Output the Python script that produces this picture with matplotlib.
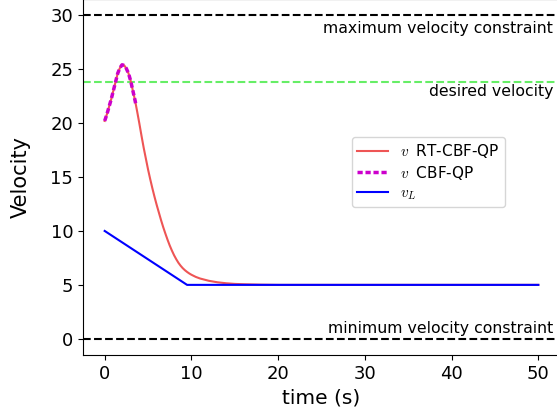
import matplotlib
matplotlib.use("Agg")
import matplotlib.pyplot as plt

plt.rcParams['mathtext.fontset'] = 'cm'

# RT-CBF-QP velocity
t_rt = [0, 0.25, 0.5, 0.75, 1.0, 1.25, 1.5, 1.75, 2.0, 2.25, 2.5, 2.75, 3.0, 3.25,
        3.5, 3.75, 4.0, 4.25, 4.5, 4.75, 5.0, 5.25, 5.5, 5.75, 6.0, 6.25, 6.5,
        6.75, 7.0, 7.25, 7.5, 7.75, 8.0, 8.25, 8.5, 8.75, 9.0, 9.25, 9.5, 9.75,
        10.0, 10.5, 11.0, 12.0, 13.0, 14.0, 15.0, 16.0, 17.0, 18.0, 20.0, 30.0,
        40.0, 50.0]
v_rt = [20.2, 20.8, 21.5, 22.2, 23.0, 23.8, 24.6, 25.1, 25.4, 25.35, 25.05, 24.6,
        23.9, 23.0, 22.1, 21.05, 19.95, 18.8, 17.7, 16.7, 15.7, 14.8, 13.95,
        13.15, 12.4, 11.7, 11.0, 10.35, 9.75, 9.18, 8.65, 8.18, 7.75, 7.38, 7.05,
        6.78, 6.55, 6.36, 6.2, 6.06, 5.94, 5.74, 5.59, 5.38, 5.24, 5.15, 5.09,
        5.06, 5.04, 5.02, 5.0, 5.0, 5.0, 5.0]

# CBF-QP velocity (short horizon)
t_cbf = [0, 0.25, 0.5, 0.75, 1.0, 1.25, 1.5, 1.75, 2.0, 2.25, 2.5, 2.75, 3.0,
         3.25, 3.5, 3.6]
v_cbf = [20.2, 20.8, 21.5, 22.2, 23.0, 23.8, 24.6, 25.1, 25.4, 25.35, 25.05,
         24.6, 23.9, 23.0, 22.1, 21.7]

# Lead vehicle velocity
t_lead = [0, 9.5, 50]
v_lead = [10.0, 5.0, 5.0]

v_max = 30
v_min = 0
v_des = 23.8

fig = plt.figure(figsize=(5.57, 4.12), dpi=100)
ax = fig.add_axes([83/557, 57/412, 477/557, 356/412])

ax.axhline(v_max, color='black', linestyle='--', linewidth=1.5)
ax.axhline(v_min, color='black', linestyle='--', linewidth=1.5)
ax.axhline(v_des, color='#66ee66', linestyle='--', linewidth=1.5)

ax.plot(t_rt, v_rt, color='#ee5555', linewidth=1.5, label=r'$v\;$ RT-CBF-QP')
ax.plot(t_cbf, v_cbf, color='#cc00cc', linewidth=2.5, dashes=(1.5, 0.8),
        label=r'$v\;$ CBF-QP')
ax.plot(t_lead, v_lead, color='blue', linewidth=1.5, label=r'$v_L$')

ax.text(51.7, 28.8, 'maximum velocity constraint', ha='right', va='center', fontsize=11.3)
ax.text(51.7, 22.9, 'desired velocity', ha='right', va='center', fontsize=11.3)
ax.text(51.7, 1.0, 'minimum velocity constraint', ha='right', va='center', fontsize=11.3)

ax.set_xlim(-2.5, 52.5)
ax.set_ylim(-1.5, 31.5)
ax.set_xticks([0, 10, 20, 30, 40, 50])
ax.set_yticks([0, 5, 10, 15, 20, 25, 30])
ax.tick_params(labelsize=13)
ax.set_xlabel('time (s)', fontsize=14.5)
ax.set_ylabel('Velocity', fontsize=15, labelpad=14)

ax.legend(loc='center', bbox_to_anchor=(0.724, 0.514), fontsize=11,
          labelspacing=0.25, borderpad=0.35, handlelength=2.0)

fig.savefig('out.png', dpi=100)
